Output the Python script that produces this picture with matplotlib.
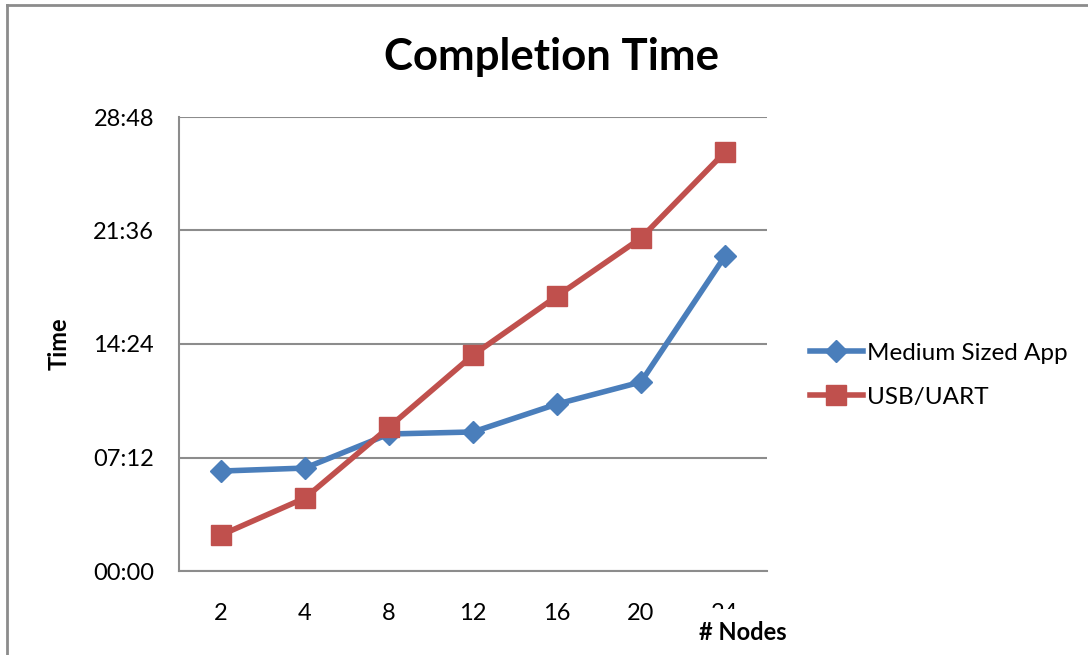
import matplotlib
matplotlib.use("Agg")
import matplotlib.pyplot as plt
from matplotlib.ticker import FuncFormatter, MultipleLocator
from matplotlib.lines import Line2D

categories = ["2", "4", "8", "12", "16", "20", "24"]
medium_app = [6.34, 6.53, 8.69, 8.82, 10.59, 11.99, 19.98]   # minutes
usb_uart = [2.28, 4.63, 9.13, 13.70, 17.44, 21.12, 26.58]    # minutes
series_names = ["Medium Sized App", "USB/UART"]

plt.rcParams['font.family'] = ['Lato', 'DejaVu Sans']

W, H = 1088, 655
fig = plt.figure(figsize=(W / 100, H / 100), dpi=100)
ax = fig.add_axes([179 / W, 1 - 571 / H, (767 - 179) / W, (571 - 117) / H])

x = list(range(len(categories)))
blue = "#4A7EBB"
red = "#C0504D"
ax.plot(x, medium_app, color=blue, lw=4, marker="D", ms=11, mec=blue, mfc=blue,
        label=series_names[0], zorder=3)
ax.plot(x, usb_uart, color=red, lw=4, marker="s", ms=14, mec=red, mfc=red,
        label=series_names[1], zorder=3)

ax.set_xlim(-0.5, len(categories) - 0.5)
ax.set_ylim(0, 28.8)
ax.yaxis.set_major_locator(MultipleLocator(7.2))
ax.yaxis.set_major_formatter(FuncFormatter(
    lambda v, p: "%02d:%02d" % (int(round(v * 60)) // 60, int(round(v * 60)) % 60)))
ax.set_xticks(x)
ax.set_xticklabels(categories)
ax.grid(axis="y", color="#8c8c8c", lw=1.5)
ax.set_axisbelow(True)
for s in ["top", "right"]:
    ax.spines[s].set_visible(False)
for s in ["left", "bottom"]:
    ax.spines[s].set_color("#8c8c8c")
    ax.spines[s].set_linewidth(1.5)
ax.tick_params(axis="both", length=0, labelsize=17, colors="black")
ax.tick_params(axis="y", pad=18)
ax.tick_params(axis="x", pad=23)

fig.text(551 / W, 1 - 57 / H, "Completion Time", ha="center", va="center",
         fontsize=31.5, fontweight="bold")
fig.text(59 / W, 1 - 344 / H, "Time", ha="center", va="center", rotation=90,
         fontsize=17, fontweight="bold")
fig.text(743 / W, 1 - 632 / H, "# Nodes", ha="center", va="center",
         fontsize=17, fontweight="bold", zorder=5,
         bbox=dict(facecolor="white", edgecolor="none", pad=8))

leg = fig.legend(loc="upper left", bbox_to_anchor=(800 / W, 1 - 333 / H),
                 frameon=False, fontsize=17.5, handlelength=2.2, handletextpad=0.15,
                 labelspacing=0.95, borderaxespad=0)

# outer chart frame (left and top edges visible)
fig.add_artist(Line2D([7 / W, 7 / W], [0, 1 - 5 / H], color="#8c8c8c", lw=2,
                      transform=fig.transFigure))
fig.add_artist(Line2D([7 / W, 1], [1 - 5 / H, 1 - 5 / H], color="#8c8c8c", lw=2,
                      transform=fig.transFigure))

fig.savefig("out.png", dpi=100)
